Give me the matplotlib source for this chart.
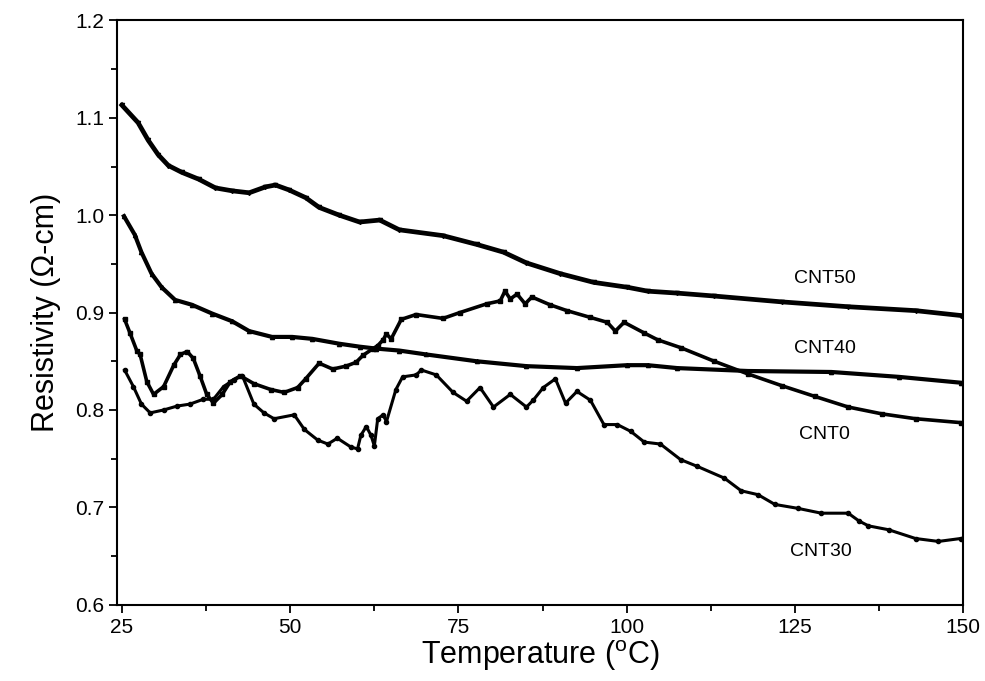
import matplotlib
matplotlib.use('Agg')
import matplotlib.pyplot as plt
from matplotlib.ticker import MultipleLocator

plt.rcParams['font.family'] = ['Liberation Sans', 'DejaVu Sans']
plt.rcParams['mathtext.fontset'] = 'custom'
plt.rcParams['mathtext.rm'] = 'Liberation Sans'

# Values
t_cnt50 = [25.0, 27.4, 28.9, 30.4, 31.9, 33.9, 36.4, 38.9, 41.4, 43.9, 46.3, 47.8, 49.8, 52.3,
           54.3, 57.3, 60.3, 63.3, 66.2, 72.7, 77.7, 81.7, 85.1, 90.1, 95.1, 100.1, 103.1,
           107.5, 113.0, 123.0, 132.9, 142.9, 149.6]
r_cnt50 = [1.113, 1.095, 1.077, 1.062, 1.051, 1.044, 1.037, 1.028, 1.025, 1.023, 1.029, 1.031,
           1.026, 1.018, 1.008, 1.000, 0.993, 0.995, 0.985, 0.979, 0.970, 0.962, 0.951, 0.940,
           0.931, 0.926, 0.922, 0.920, 0.917, 0.911, 0.906, 0.902, 0.897]

t_cnt40 = [25.3, 26.9, 27.9, 29.4, 30.9, 32.9, 35.4, 38.4, 41.4, 43.9, 47.3, 50.3, 53.3, 57.3,
           60.3, 62.8, 66.2, 70.2, 77.7, 85.1, 92.6, 100.1, 103.1, 107.5, 118.0, 130.4, 140.4,
           149.6]
r_cnt40 = [0.999, 0.980, 0.962, 0.940, 0.926, 0.913, 0.908, 0.899, 0.891, 0.881, 0.875, 0.875,
           0.873, 0.868, 0.865, 0.863, 0.861, 0.857, 0.850, 0.845, 0.843, 0.846, 0.846, 0.843,
           0.840, 0.839, 0.834, 0.828]

t_cnt0 = [25.4, 26.2, 27.2, 27.7, 28.7, 29.7, 31.2, 32.7, 33.7, 34.7, 35.6, 36.6, 37.6, 38.6,
          39.9, 41.1, 42.6, 44.6, 47.1, 49.1, 51.1, 52.3, 54.3, 56.3, 58.3, 59.8, 60.8, 62.3,
          63.0, 63.8, 64.3, 65.0, 66.5, 68.7, 72.7, 75.2, 79.2, 81.2, 81.9, 82.7, 83.7, 84.9,
          85.9, 88.6, 91.1, 94.6, 97.1, 98.3, 99.6, 102.6, 104.6, 108.0, 113.0, 118.0, 123.0,
          127.9, 132.9, 137.9, 142.9, 149.6]
r_cnt0 = [0.893, 0.879, 0.861, 0.857, 0.829, 0.816, 0.824, 0.846, 0.857, 0.860, 0.853, 0.835,
          0.816, 0.807, 0.816, 0.829, 0.835, 0.827, 0.821, 0.818, 0.823, 0.832, 0.848, 0.842,
          0.845, 0.849, 0.856, 0.863, 0.866, 0.872, 0.878, 0.873, 0.893, 0.898, 0.894, 0.900,
          0.909, 0.912, 0.922, 0.914, 0.919, 0.909, 0.916, 0.908, 0.902, 0.895, 0.890, 0.881,
          0.890, 0.879, 0.872, 0.864, 0.850, 0.837, 0.825, 0.814, 0.803, 0.796, 0.791, 0.787]

t_cnt30 = [25.4, 26.7, 27.9, 29.2, 31.2, 33.2, 35.1, 37.1, 38.6, 40.1, 41.6, 42.9, 44.6, 46.1,
           47.6, 50.6, 52.1, 54.1, 55.6, 57.0, 59.0, 60.0, 60.5, 61.3, 62.0, 62.5, 63.0, 63.8,
           64.3, 65.7, 66.7, 68.7, 69.5, 71.7, 74.2, 76.2, 78.2, 80.2, 82.7, 85.1, 86.1, 87.6,
           89.4, 90.9, 92.6, 94.6, 96.6, 98.6, 100.6, 102.6, 105.0, 108.0, 110.5, 114.5, 117.0,
           119.5, 122.0, 125.4, 128.9, 132.9, 134.5, 135.9, 138.9, 142.9, 146.3, 149.6]
r_cnt30 = [0.841, 0.824, 0.806, 0.797, 0.800, 0.804, 0.806, 0.811, 0.811, 0.824, 0.831, 0.835,
           0.806, 0.797, 0.791, 0.795, 0.780, 0.769, 0.765, 0.771, 0.762, 0.760, 0.774, 0.783,
           0.774, 0.763, 0.791, 0.795, 0.788, 0.821, 0.834, 0.836, 0.841, 0.836, 0.818, 0.809,
           0.823, 0.803, 0.816, 0.803, 0.810, 0.823, 0.832, 0.807, 0.819, 0.810, 0.785, 0.785,
           0.778, 0.767, 0.765, 0.749, 0.742, 0.730, 0.717, 0.713, 0.703, 0.699, 0.694, 0.694,
           0.686, 0.681, 0.677, 0.668, 0.665, 0.668]

labels = ['CNT50', 'CNT40', 'CNT0', 'CNT30']
label_x = [129.4, 129.4, 129.4, 128.9]
label_y = [0.935, 0.863, 0.775, 0.655]

fig, ax = plt.subplots(figsize=(9.85, 6.81), dpi=100)
fig.subplots_adjust(left=0.119, right=0.978, top=0.97, bottom=0.112)

ax.plot(t_cnt50, r_cnt50, color='black', lw=3.4, marker='v', ms=3)
ax.plot(t_cnt40, r_cnt40, color='black', lw=3.0, marker='^', ms=3)
ax.plot(t_cnt0, r_cnt0, color='black', lw=2.6, marker='s', ms=2.5)
ax.plot(t_cnt30, r_cnt30, color='black', lw=2.2, marker='o', ms=3)

for name, lx, ly in zip(labels, label_x, label_y):
    ax.text(lx, ly, name, fontsize=14, ha='center', va='center')

ax.set_xlim(24.3, 150)
ax.set_ylim(0.6, 1.2)
ax.xaxis.set_major_locator(MultipleLocator(25))
ax.xaxis.set_minor_locator(MultipleLocator(12.5))
ax.yaxis.set_major_locator(MultipleLocator(0.1))
ax.yaxis.set_minor_locator(MultipleLocator(0.05))
ax.yaxis.set_major_formatter(plt.FuncFormatter(lambda v, p: f'{v:.1f}'))
ax.tick_params(which='both', direction='out', top=False, right=False, width=1.3, labelsize=15)
ax.tick_params(which='major', length=6)
ax.tick_params(which='minor', length=4)
for sp in ax.spines.values():
    sp.set_linewidth(1.5)

ax.set_xlabel(r'Temperature ($^{\rm o}$C)', fontsize=22, labelpad=1)
ax.set_ylabel('Resistivity (Ω-cm)', fontsize=22, labelpad=10)

fig.savefig('out.png', dpi=100)
